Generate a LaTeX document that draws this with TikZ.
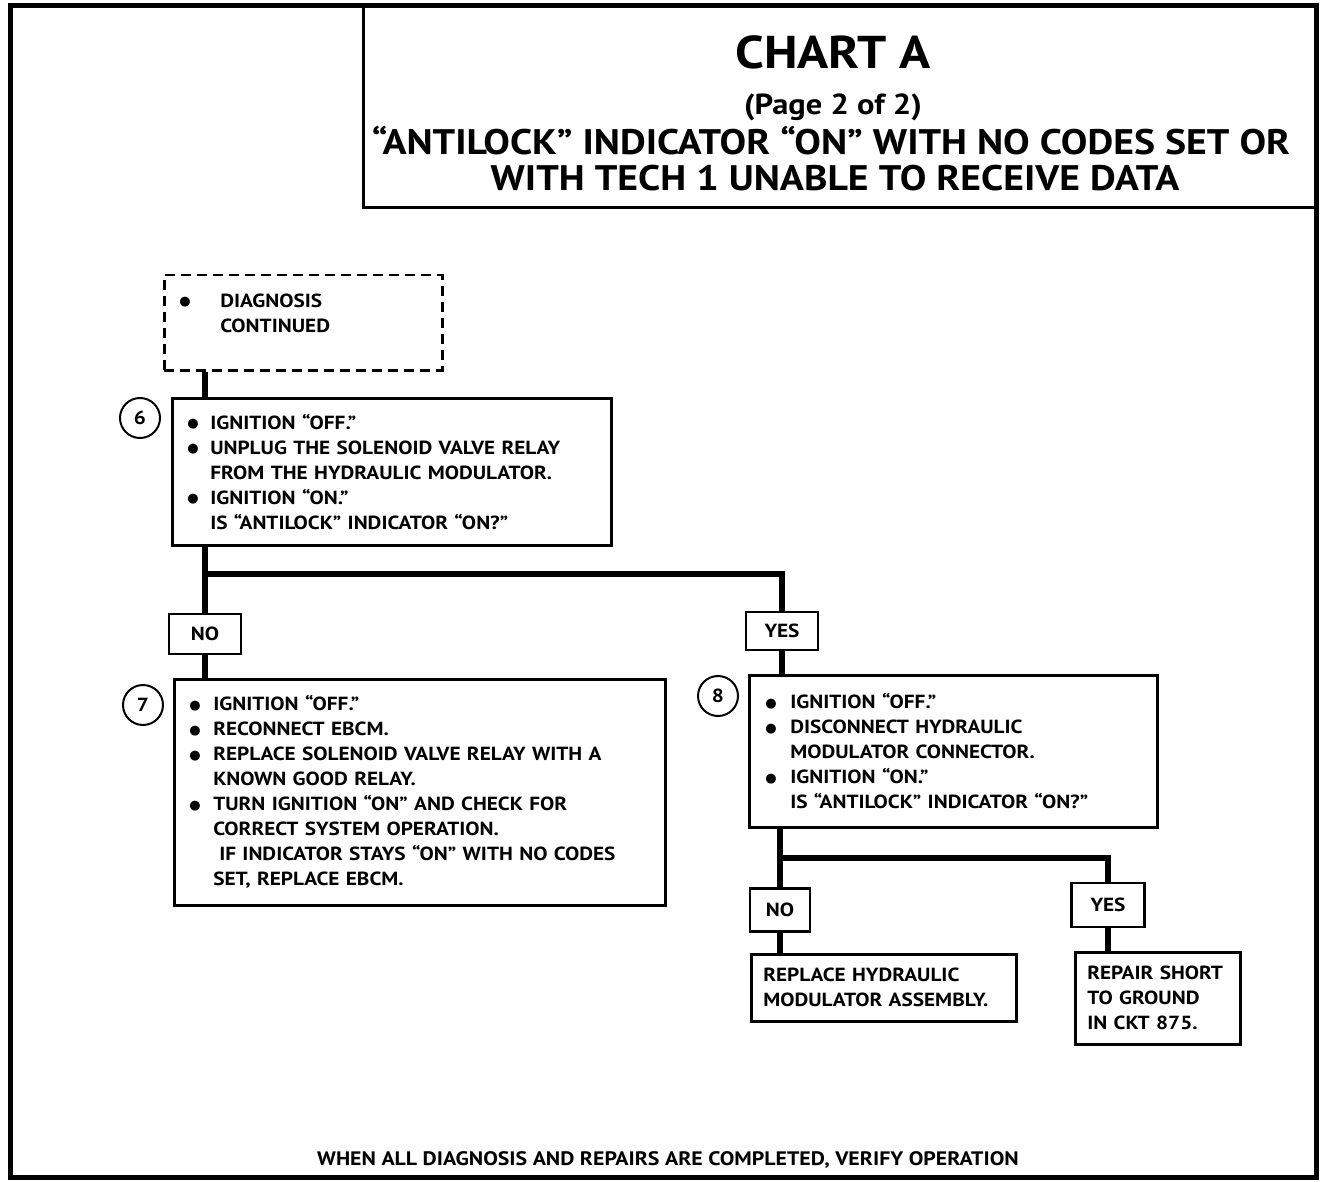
\documentclass[tikz,border=0pt]{standalone}
\usepackage{fontspec}
\setmainfont{PT Sans}[FakeStretch=1.12]
\newfontfamily\dotfont{DejaVu Sans}
\usetikzlibrary{positioning}
\newcommand\boxfont{\bfseries\fontsize{19}{25}\selectfont}
\newcommand\itm[1][23pt]{\makebox[#1][l]{\raisebox{1.5pt}{\dotfont\fontsize{13}{13}\selectfont ●}}}
\newcommand\cnt[1][23pt]{\hspace*{#1}}
\begin{document}
\begin{tikzpicture}[x=1pt,y=-1pt,
  stepbox/.style={draw,line width=2.5pt,anchor=north west,align=left,inner xsep=15pt,inner ysep=3pt,font=\boxfont},
  ansbox/.style={draw,line width=2.5pt,inner sep=0pt,font=\boxfont},
  num/.style={circle,draw,line width=2pt,minimum size=40pt,inner sep=0pt,font=\boxfont},
  conn/.style={line width=6pt}]
\useasboundingbox (0,0) rectangle (1344,1182);
% frame and heading
\draw[line width=5pt] (10,6) rectangle (1316,1177);
\draw[line width=3pt] (363,6) -- (363,208) -- (1316,208);
\node[font=\bfseries\fontsize{46}{50}\selectfont] (chart) at (833,52) {CHART A};
\node[font=\bfseries\fontsize{29}{30}\selectfont] (page) at (833,107) {(Page 2 of 2)};
\node[font=\bfseries\fontsize{35.5}{38}\selectfont] (head1) at (831,141) {“ANTILOCK” INDICATOR “ON” WITH NO CODES SET OR};
\node[font=\bfseries\fontsize{35.5}{38}\selectfont] (head2) at (835,178) {WITH TECH 1 UNABLE TO RECEIVE DATA};

% steps
\node[stepbox,dash pattern=on 10pt off 6pt,text width=248pt,minimum height=95pt] (diag) at (163,274)
  {\itm[41pt]DIAGNOSIS\\ \cnt[41pt]CONTINUED\\[-5pt]\mbox{}};
\node[stepbox,text width=409pt,minimum height=147pt] (s6) at (171,397)
  {\itm IGNITION “OFF.”\\
   \itm UNPLUG THE SOLENOID VALVE RELAY\\
   \cnt FROM THE HYDRAULIC MODULATOR.\\
   \itm IGNITION “ON.”\\
   \cnt IS “ANTILOCK” INDICATOR “ON?”};
\node[num] (c6) at (140,418) {6};

\node[ansbox,minimum width=72pt,minimum height=40pt] (no1) at (205,634) {NO};
\node[ansbox,minimum width=72pt,minimum height=38pt] (yes1) at (782,631) {YES};

\node[stepbox,text width=461pt,minimum height=226pt] (s7) at (173,678)
  {\itm[24pt]IGNITION “OFF.”\\
   \itm[24pt]RECONNECT EBCM.\\
   \itm[24pt]REPLACE SOLENOID VALVE RELAY WITH A\\
   \cnt[24pt]KNOWN GOOD RELAY.\\
   \itm[24pt]TURN IGNITION “ON” AND CHECK FOR\\
   \cnt[24pt]CORRECT SYSTEM OPERATION.\\
   \cnt[30pt]IF INDICATOR STAYS “ON” WITH NO CODES\\
   \cnt[24pt]SET, REPLACE EBCM.};
\node[num] (c7) at (143,705) {7};

\node[stepbox,inner xsep=16pt,text width=376pt,minimum height=152pt] (s8) at (748,674)
  {\itm[25pt]IGNITION “OFF.”\\
   \itm[25pt]DISCONNECT HYDRAULIC\\
   \cnt[25pt]MODULATOR CONNECTOR.\\
   \itm[25pt]IGNITION “ON.”\\
   \cnt[25pt]IS “ANTILOCK” INDICATOR “ON?”};
\node[num] (c8) at (718,696) {8};

\node[ansbox,minimum width=60pt,minimum height=43pt] (no2) at (780,910) {NO};
\node[ansbox,minimum width=73pt,minimum height=44pt] (yes2) at (1108,905) {YES};

\node[stepbox,inner xsep=12pt,text width=241pt,minimum height=67pt] (hyd) at (750,953)
  {REPLACE HYDRAULIC\\ MODULATOR ASSEMBLY.};
\node[stepbox,inner xsep=12pt,text width=141pt,minimum height=92pt] (short) at (1074,951)
  {REPAIR SHORT\\ TO GROUND\\ IN CKT 875.};

% connectors
\coordinate (fork6) at (205,574);
\coordinate (fork8) at (780,858);
\draw[conn] (diag.south -| no1) -- (s6.north -| no1);
\draw[conn] (s6.south -| no1) -- (no1.north);
\draw[conn] (fork6) -| (yes1.north);
\draw[conn] (no1.south) -- (s7.north -| no1);
\draw[conn] (yes1.south) -- (s8.north -| yes1);
\draw[conn] (s8.south -| no2) -- (no2.north);
\draw[conn] (fork8) -| (yes2.north);
\draw[conn] (no2.south) -- (hyd.north -| no2);
\draw[conn] (yes2.south) -- (short.north -| yes2);

\node[font=\bfseries\fontsize{19.5}{20}\selectfont] (verify) at (668,1160)
  {WHEN ALL DIAGNOSIS AND REPAIRS ARE COMPLETED, VERIFY OPERATION};
\end{tikzpicture}
\end{document}
